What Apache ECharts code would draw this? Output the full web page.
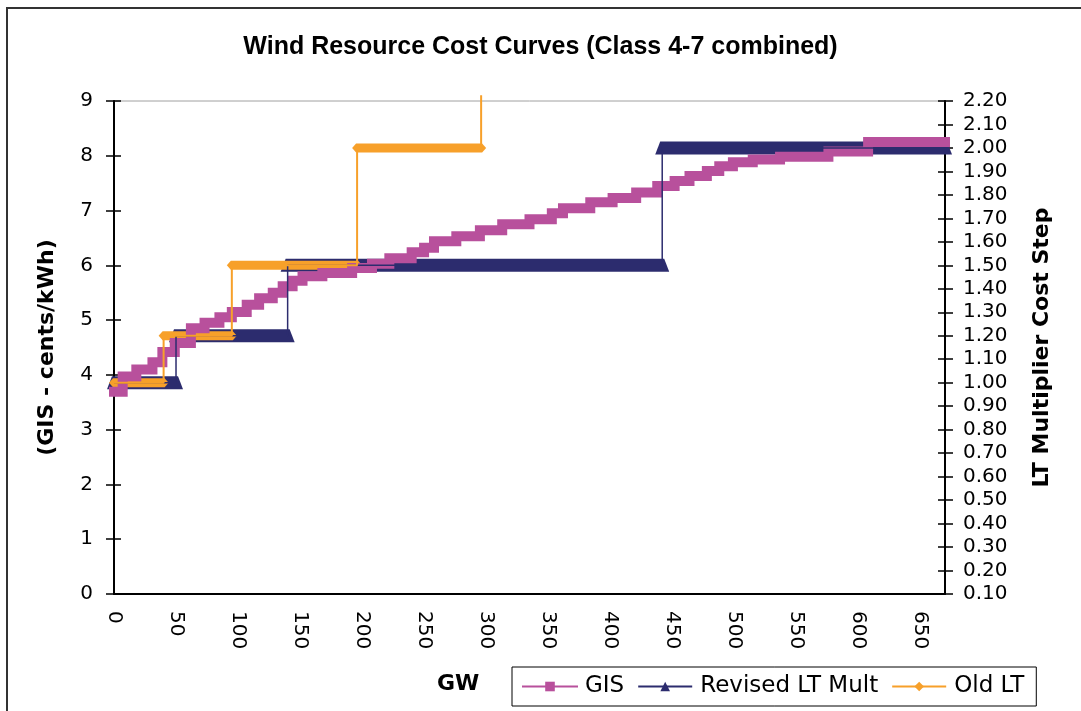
<!DOCTYPE html>
<html><head><meta charset="utf-8">
<script src="https://cdn.jsdelivr.net/npm/echarts@6/dist/echarts.min.js"></script>
<style>html,body{margin:0;padding:0;background:#fff}#c{width:1081px;height:711px}</style>
</head><body><div id="c"></div>
<script>
// GIS cost curve (GW cumulative, cents/kWh) - stair points
const gisGW = [0,7,18,31,39,49,62,73,85,95,107,117,128,136,144,152,168,192,208,222,240,250,258,276,295,313,335,353,362,384,402,421,438,452,464,478,488,499,515,537,576,608,670];
const gisCost = [3.69,3.97,4.10,4.23,4.42,4.58,4.85,4.95,5.05,5.15,5.28,5.40,5.50,5.62,5.72,5.80,5.86,5.95,6.03,6.13,6.24,6.32,6.44,6.53,6.64,6.75,6.84,6.95,7.04,7.15,7.23,7.33,7.45,7.54,7.63,7.72,7.81,7.88,7.93,7.98,8.08,8.25,8.25];
// Revised LT multiplier steps: breakpoints (GW) and levels
const revGW = [0,50,140,442,670];
const revMult = [1.0,1.2,1.5,2.0];
// Old LT multiplier steps
const oldGW = [0,40,95,196,296];
const oldMult = [1.0,1.2,1.5,2.0];
const oldTop = 2.225;
// tick labels
const xTickLabels = [0,50,100,150,200,250,300,350,400,450,500,550,600,650];
const costTicks = [0,1,2,3,4,5,6,7,8,9];
const multTicks = [0.1,0.2,0.3,0.4,0.5,0.6,0.7,0.8,0.9,1.0,1.1,1.2,1.3,1.4,1.5,1.6,1.7,1.8,1.9,2.0,2.1,2.2];

const PINK = '#B8509C', NAVY = '#2C2C6E', ORANGE = '#F7A02A';

const gisData = gisGW.map((g,i)=>[g, gisCost[i]]);
const revLine = revGW.map((g,i)=>[g, revMult[Math.min(i, revMult.length-1)]]);
const revBands = revMult.map((m,i)=>[revGW[i], revGW[i+1], m]);
const oldLine = oldGW.map((g,i)=>[g, i < oldMult.length ? oldMult[i] : oldTop]);
oldLine.splice(oldLine.length-1, 0, [oldGW[oldGW.length-1], oldMult[oldMult.length-1]]);
const oldBands = oldMult.map((m,i)=>[oldGW[i], oldGW[i+1], m]);

function navyBand(params, api){
  const y = api.value(2);
  const p0 = api.coord([api.value(0), y]);
  const p1 = api.coord([api.value(1), y]);
  return {type:'polygon', shape:{points:[[p0[0]-7,p0[1]+6.5],[p0[0]-2,p0[1]-6.5],[p1[0]+2,p1[1]-6.5],[p1[0]+7,p1[1]+6.5]]}, style:{fill:NAVY}};
}
function orangeBand(params, api){
  const y = api.value(2);
  const p0 = api.coord([api.value(0), y]);
  const p1 = api.coord([api.value(1), y]);
  return {type:'polygon', shape:{points:[[p0[0]-5,p0[1]],[p0[0]-1,p0[1]-4.5],[p1[0]+1,p1[1]-4.5],[p1[0]+5,p1[1]],[p1[0]+1,p1[1]+4.5],[p0[0]-1,p0[1]+4.5]]}, style:{fill:ORANGE}};
}

const FONT = 'DejaVu Sans';
const chart = echarts.init(document.getElementById('c'));
chart.setOption({
  animation: false,
  backgroundColor: '#fff',
  title: {text: 'Wind Resource Cost Curves (Class 4-7 combined)', left: 'center', top: 30,
    textStyle: {fontFamily: 'Liberation Sans', fontWeight: 'bold', fontSize: 25, color: '#000'}},
  graphic: [
    {type:'rect', shape:{x:7, y:8, width:1200, height:900}, style:{stroke:'#333', lineWidth:2, fill:null}, silent:true},
    {type:'text', left: 437, top: 673, style:{text:'GW', font:'bold 22px "DejaVu Sans"', fill:'#000'}}
  ],
  grid: {left: 114, right: 136, top: 101, bottom: 117, show: true, borderColor: '#a0a0a0', borderWidth: 1},
  legend: {left: 512, top: 667, itemWidth: 54, itemHeight: 12, itemGap: 13, padding: [8, 12, 8, 10],
    borderColor: '#000', borderWidth: 1, lineStyle: {width: 2},
    textStyle: {fontFamily: FONT, fontSize: 23, color: '#000', padding: [0, 0, 0, 3]},
    data: ['GIS', 'Revised LT Mult', 'Old LT']},
  xAxis: {type: 'value', min: 0, max: 670, interval: 50,
    axisLine: {show: true, lineStyle: {color: '#000', width: 2}}, axisTick: {show: false},
    splitLine: {show: false}, showMaxLabel: false,
    axisLabel: {rotate: -90, margin: 17, fontFamily: FONT, fontSize: 20, color: '#000',
      formatter: v => xTickLabels.includes(v) ? String(v) : ''}},
  yAxis: [
    {type: 'value', position: 'left', min: 0, max: 9, interval: 1,
      axisLine: {show: true, lineStyle: {color: '#000', width: 2}},
      axisTick: {show: true, length: 8, lineStyle: {color: '#000', width: 1.5}},
      splitLine: {show: false},
      axisLabel: {margin: 21, fontFamily: FONT, fontSize: 20, color: '#000',
        formatter: v => costTicks.includes(v) ? String(v) : ''},
      name: '(GIS - cents/kWh)', nameLocation: 'middle', nameGap: 56, nameRotate: 90,
      nameTextStyle: {fontFamily: FONT, fontWeight: 'bold', fontSize: 22, color: '#000'}},
    {type: 'value', position: 'right', min: 0.1, max: 2.2, interval: 0.1,
      axisLine: {show: true, lineStyle: {color: '#000', width: 2}},
      axisTick: {show: true, length: 8, lineStyle: {color: '#000', width: 1.5}},
      splitLine: {show: false},
      axisLabel: {margin: 18, fontFamily: FONT, fontSize: 20, color: '#000',
        formatter: v => { const r = Math.round(v*10)/10; return multTicks.includes(r) ? r.toFixed(2) : ''; }},
      name: 'LT Multiplier Cost Step', nameLocation: 'middle', nameGap: 86, nameRotate: 90,
      nameTextStyle: {fontFamily: FONT, fontWeight: 'bold', fontSize: 22, color: '#000'}},
    {type: 'value', position: 'left', min: 0, max: 9, interval: 1,
      axisLine: {show: false}, axisLabel: {show: false}, splitLine: {show: false},
      axisTick: {show: true, inside: true, length: 7, lineStyle: {color: '#000', width: 1.5}}},
    {type: 'value', position: 'right', min: 0.1, max: 2.2, interval: 0.1,
      axisLine: {show: false}, axisLabel: {show: false}, splitLine: {show: false},
      axisTick: {show: true, inside: true, length: 7, lineStyle: {color: '#000', width: 1.5}}}
  ],
  series: [
    {name: 'GIS', type: 'line', yAxisIndex: 0, data: gisData, step: 'end', clip: false,
      symbol: 'rect', symbolSize: 9, showSymbol: false, color: PINK,
      lineStyle: {color: PINK, width: 10, cap: 'square', join: 'miter'}},
    {name: 'Revised LT Mult', type: 'line', yAxisIndex: 1, data: revLine, step: 'end',
      symbol: 'triangle', symbolSize: 10, showSymbol: false, color: NAVY,
      lineStyle: {color: NAVY, width: 1.5}},
    {type: 'custom', yAxisIndex: 1, data: revBands, renderItem: navyBand, encode: {x: [0, 1], y: 2}, silent: true},
    {name: 'Old LT', type: 'line', yAxisIndex: 1, data: oldLine, clip: false,
      symbol: 'diamond', symbolSize: 8, showSymbol: false, color: ORANGE,
      lineStyle: {color: ORANGE, width: 2}, step: 'end'},
    {type: 'custom', yAxisIndex: 1, data: oldBands, renderItem: orangeBand, encode: {x: [0, 1], y: 2}, silent: true}
  ]
});
</script>
</body></html>
